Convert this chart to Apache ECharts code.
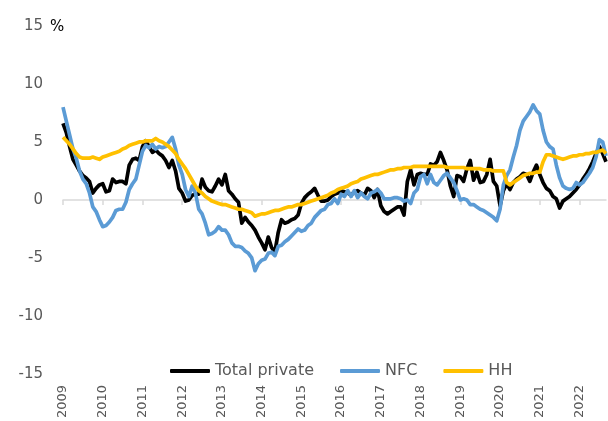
<!DOCTYPE html>
<html>
<head>
<meta charset="utf-8">
<title>Private sector credit growth</title>
<script src="https://cdn.jsdelivr.net/npm/echarts@6/dist/echarts.min.js"></script>
<style>
  html, body { margin: 0; padding: 0; background: #ffffff; }
  #chart { width: 608px; height: 421px; }
</style>
</head>
<body>
<div id="chart"></div>
<script>
// Monthly observations, Jan 2009 – Sep 2022 (annual growth, %)
const years = ['2009','2010','2011','2012','2013','2014','2015','2016','2017','2018','2019','2020','2021','2022'];
const monthsInLastYear = 9;

const totalPrivate = [
  6.6, 5.8, 4.6, 3.5, 3.0, 2.5, 2.1, 1.9, 1.6, 0.6, 1.0, 1.3,   // 2009
  1.4, 0.7, 0.8, 1.8, 1.5, 1.6, 1.6, 1.4, 3.0, 3.5, 3.6, 3.4,   // 2010
  4.6, 5.1, 4.6, 4.1, 4.3, 4.0, 3.8, 3.4, 2.8, 3.4, 2.5, 1.0,   // 2011
  0.6, -0.1, 0.0, 0.4, 0.5, 0.5, 1.8, 1.1, 0.8, 0.7, 1.2, 1.8,  // 2012
  1.3, 2.2, 0.8, 0.5, 0.1, -0.2, -2.0, -1.5, -1.9, -2.2, -2.6, -3.2, // 2013
  -3.7, -4.3, -3.2, -4.1, -4.5, -2.8, -1.7, -2.0, -1.9, -1.7, -1.6, -1.3, // 2014
  -0.3, 0.2, 0.5, 0.7, 1.0, 0.4, -0.1, -0.1, 0.0, 0.3, 0.5, 0.6, // 2015
  0.8, 0.7, 0.6, 0.4, 0.7, 0.8, 0.6, 0.4, 1.0, 0.8, 0.2, 0.9,   // 2016
  -0.5, -1.0, -1.2, -1.0, -0.8, -0.6, -0.6, -1.3, 1.6, 2.6, 1.3, 2.2, // 2017
  2.3, 2.2, 2.2, 3.1, 3.0, 3.3, 4.1, 3.4, 2.6, 1.2, 0.3, 2.1,   // 2018
  2.0, 1.6, 2.7, 3.4, 1.7, 2.4, 1.5, 1.6, 2.2, 3.5, 1.6, 1.2,   // 2019
  -0.5, 0.8, 1.4, 0.9, 1.5, 1.8, 2.0, 2.3, 2.2, 1.6, 2.4, 3.0,  // 2020
  2.2, 1.5, 1.0, 0.8, 0.3, 0.1, -0.7, -0.1, 0.1, 0.3, 0.6, 0.9, // 2021
  1.3, 1.8, 2.2, 2.7, 3.3, 4.0, 4.6, 4.0, 3.3                    // 2022
];

const nfc = [
  8.0, 6.8, 5.6, 4.4, 3.6, 2.5, 1.8, 1.4, 0.6, -0.6, -1.0, -1.7, // 2009
  -2.3, -2.2, -1.9, -1.5, -0.9, -0.8, -0.8, -0.2, 0.9, 1.4, 1.8, 3.0, // 2010
  4.2, 4.7, 4.5, 4.8, 4.4, 4.6, 4.5, 4.6, 5.0, 5.4, 4.4, 3.0,   // 2011
  2.2, 0.9, 0.3, 1.2, 0.6, -0.8, -1.2, -2.0, -3.0, -2.9, -2.7, -2.3, // 2012
  -2.6, -2.6, -3.0, -3.7, -4.0, -4.0, -4.1, -4.4, -4.6, -5.0, -6.1, -5.5, // 2013
  -5.2, -5.1, -4.6, -4.5, -4.8, -4.0, -3.9, -3.6, -3.4, -3.1, -2.8, -2.5, // 2014
  -2.7, -2.6, -2.2, -2.0, -1.5, -1.2, -0.9, -0.8, -0.4, -0.3, 0.1, -0.3, // 2015
  0.5, 0.3, 0.8, 0.3, 0.8, 0.2, 0.6, 0.3, 0.1, 0.6, 0.7, 0.9,   // 2016
  0.6, 0.1, 0.1, 0.1, 0.2, 0.2, 0.1, -0.1, 0.0, -0.3, 0.6, 0.9, // 2017
  2.0, 2.2, 1.4, 2.2, 1.5, 1.3, 1.7, 2.1, 2.3, 1.9, 1.5, 0.8,   // 2018
  0.0, 0.1, 0.0, -0.4, -0.4, -0.6, -0.8, -0.9, -1.1, -1.3, -1.5, -1.8, // 2019
  -0.8, 1.3, 2.1, 2.6, 3.7, 4.7, 6.0, 6.8, 7.2, 7.6, 8.2, 7.7,  // 2020
  7.4, 6.0, 5.0, 4.6, 4.4, 3.0, 1.9, 1.2, 1.0, 0.9, 1.0, 1.5,   // 2021
  1.3, 1.5, 1.9, 2.3, 2.8, 3.7, 5.2, 5.0, 3.8                    // 2022
];

const hh = [
  5.4, 5.1, 4.8, 4.4, 4.0, 3.7, 3.6, 3.6, 3.6, 3.7, 3.6, 3.5,   // 2009
  3.7, 3.8, 3.9, 4.0, 4.1, 4.2, 4.4, 4.5, 4.7, 4.8, 4.9, 5.0,   // 2010
  5.0, 5.1, 5.1, 5.1, 5.3, 5.1, 5.0, 4.8, 4.6, 4.3, 4.0, 3.5,   // 2011
  3.1, 2.7, 2.2, 1.7, 1.2, 0.8, 0.6, 0.3, 0.1, -0.1, -0.2, -0.3, // 2012
  -0.4, -0.4, -0.5, -0.6, -0.7, -0.8, -0.8, -0.9, -1.0, -1.1, -1.4, -1.3, // 2013
  -1.2, -1.2, -1.1, -1.0, -0.9, -0.9, -0.8, -0.7, -0.6, -0.6, -0.5, -0.4, // 2014
  -0.4, -0.3, -0.2, -0.1, 0.0, 0.1, 0.2, 0.3, 0.4, 0.6, 0.7, 0.9, // 2015
  1.0, 1.1, 1.2, 1.4, 1.5, 1.6, 1.8, 1.9, 2.0, 2.1, 2.2, 2.2,   // 2016
  2.3, 2.4, 2.5, 2.6, 2.6, 2.7, 2.7, 2.8, 2.8, 2.8, 2.9, 2.9,   // 2017
  2.9, 2.9, 2.9, 2.9, 2.9, 2.9, 2.9, 2.9, 2.8, 2.8, 2.8, 2.8,   // 2018
  2.8, 2.8, 2.7, 2.7, 2.7, 2.7, 2.7, 2.6, 2.6, 2.6, 2.5, 2.5,   // 2019
  2.5, 2.5, 1.5, 1.3, 1.5, 1.7, 1.9, 2.1, 2.2, 2.3, 2.3, 2.4,   // 2020
  2.4, 3.3, 3.9, 3.9, 3.8, 3.7, 3.6, 3.5, 3.6, 3.7, 3.8, 3.8,   // 2021
  3.9, 3.9, 4.0, 4.0, 4.1, 4.1, 4.2, 4.3, 4.0                    // 2022
];

// Month categories: "YYYY-MM"
const months = [];
years.forEach(function (y, yi) {
  const n = yi === years.length - 1 ? monthsInLastYear : 12;
  for (let m = 1; m <= n; m++) months.push(y + '-' + (m < 10 ? '0' + m : m));
});

const textGray = '#595959';
const font = 'DejaVu Sans';

const chart = echarts.init(document.getElementById('chart'), null, { renderer: 'canvas' });

chart.setOption({
  backgroundColor: '#ffffff',
  animation: false,
  grid: { left: 63, right: 2, top: 26, bottom: 45, containLabel: false },
  xAxis: [
    {
      // zero line with yearly ticks
      type: 'category',
      data: months,
      boundaryGap: false,
      axisLine: { show: true, onZero: true, lineStyle: { color: '#d9d9d9', width: 1.5 } },
      axisTick: { show: true, interval: 11, length: 5, lineStyle: { color: '#d9d9d9', width: 1.5 } },
      axisLabel: { show: false },
      splitLine: { show: false }
    },
    {
      // year labels along the bottom
      type: 'category',
      data: months,
      boundaryGap: false,
      position: 'bottom',
      axisLine: { show: false, onZero: false },
      axisTick: { show: false },
      splitLine: { show: false },
      axisLabel: {
        interval: 11,
        rotate: 90,
        margin: 11,
        color: textGray,
        fontFamily: font,
        fontSize: 13,
        formatter: function (v) { return v.slice(0, 4); }
      }
    }
  ],
  yAxis: {
    type: 'value',
    min: -15,
    max: 15,
    interval: 5,
    axisLine: { show: false },
    axisTick: { show: false },
    splitLine: { show: false },
    axisLabel: { color: textGray, fontFamily: font, fontSize: 15, margin: 20 }
  },
  legend: {
    left: 165,
    top: 358,
    itemWidth: 40,
    itemHeight: 4,
    itemGap: 26,
    icon: 'roundRect',
    textStyle: { color: textGray, fontFamily: font, fontSize: 16 },
    data: ['Total private', 'NFC', 'HH']
  },
  graphic: [
    {
      type: 'text',
      left: 50,
      top: 20,
      style: { text: '%', fill: '#000000', font: '15px "DejaVu Sans"' }
    }
  ],
  series: [
    {
      name: 'Total private',
      type: 'line',
      data: totalPrivate,
      showSymbol: false,
      symbol: 'none',
      color: '#000000',
      lineStyle: { width: 3.7, color: '#000000', join: 'round' }
    },
    {
      name: 'NFC',
      type: 'line',
      data: nfc,
      showSymbol: false,
      symbol: 'none',
      color: '#5b9bd5',
      lineStyle: { width: 3.7, color: '#5b9bd5', join: 'round' }
    },
    {
      name: 'HH',
      type: 'line',
      data: hh,
      showSymbol: false,
      symbol: 'none',
      color: '#ffc000',
      lineStyle: { width: 3.7, color: '#ffc000', join: 'round' }
    }
  ]
});
</script>
</body>
</html>
